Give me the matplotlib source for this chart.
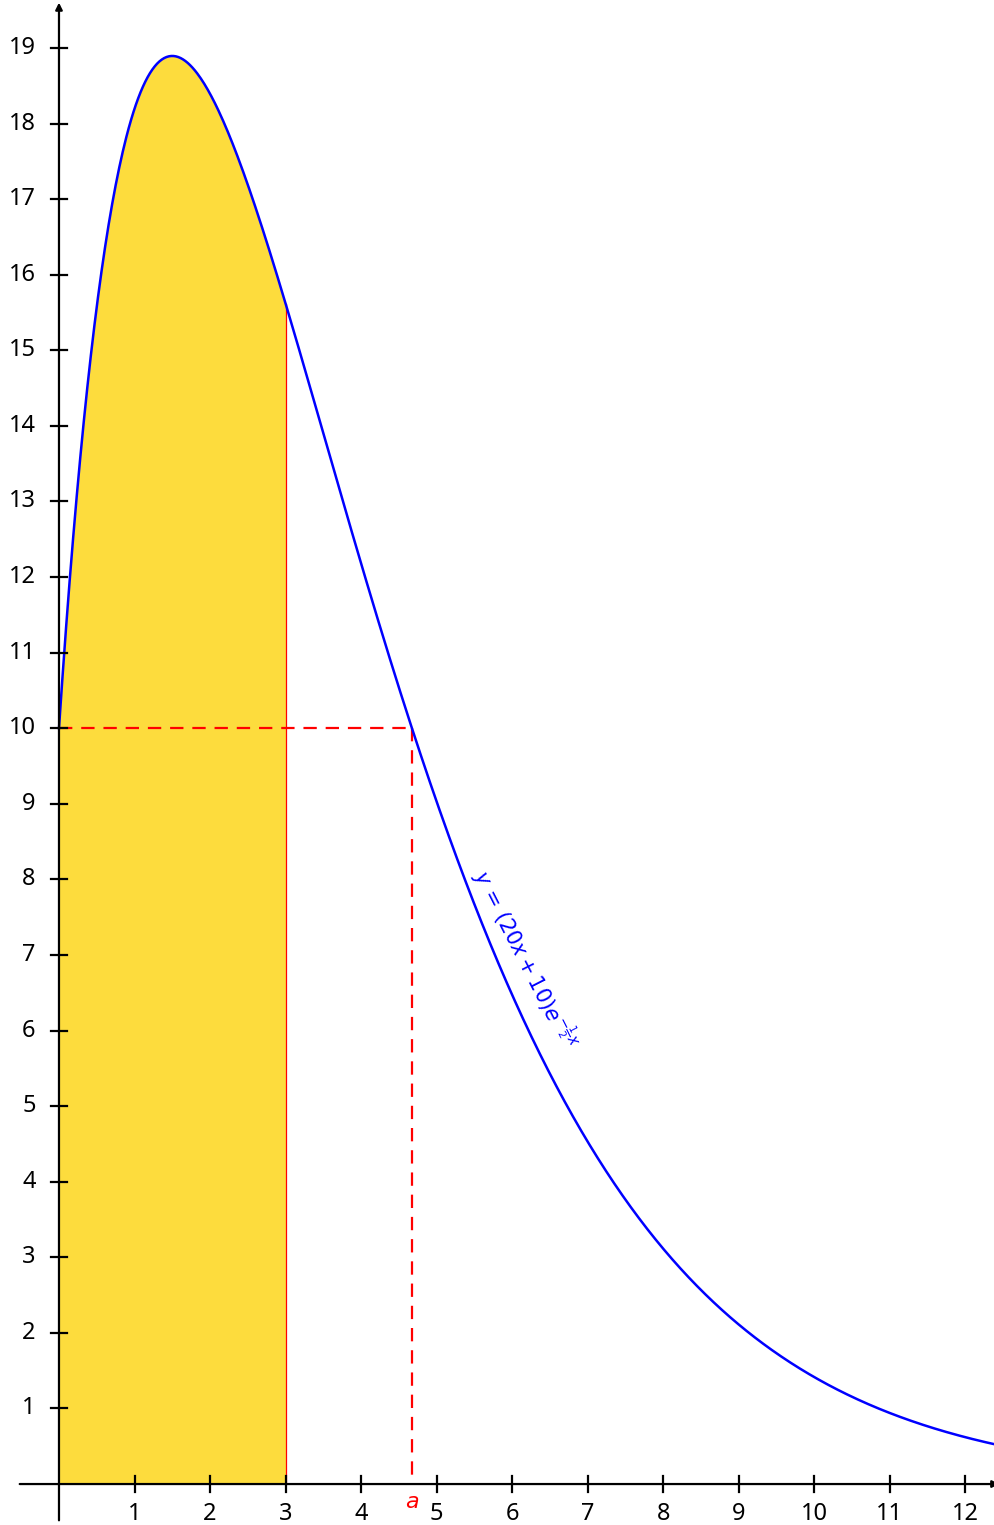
import numpy as np
import matplotlib
matplotlib.use("Agg")
import matplotlib.pyplot as plt

# y = (A*x + B) * exp(K*x), shaded from 0 to X_SHADE, a where y = Y_LEVEL
A, B, K = 20, 10, -0.5
X_SHADE = 3
Y_LEVEL = 10
x_ticks = list(range(1, 13))
y_ticks = list(range(1, 20))

def f(x):
    return (A * x + B) * np.exp(K * x)

# solve f(a) = Y_LEVEL on the decreasing branch
lo, hi = 2.0, 8.0
for _ in range(60):
    mid = 0.5 * (lo + hi)
    if f(mid) > Y_LEVEL:
        lo = mid
    else:
        hi = mid
a = 0.5 * (lo + hi)

plt.rcParams["font.family"] = ["Noto Sans", "DejaVu Sans"]
plt.rcParams["mathtext.fontset"] = "dejavusans"

fig = plt.figure(figsize=(9.94, 15.25), dpi=100)
ax = fig.add_axes([0, 0, 1, 1])
ax.set_xlim(-0.781, 12.38)
ax.set_ylim(-0.542, 19.635)
ax.axis("off")

xs = np.linspace(0, 12.5, 800)
ax.plot(xs, f(xs), color="#0000ff", lw=1.8, zorder=4)

xf = np.linspace(0, X_SHADE, 300)
ax.fill_between(xf, 0, f(xf), color="#fddc3d", lw=0, zorder=1)
ax.plot([X_SHADE, X_SHADE], [0, f(X_SHADE)], color="#ff0000", lw=0.9, zorder=2)

# dashed guides
ax.plot([0, a], [Y_LEVEL, Y_LEVEL], color="#ff0000", lw=1.6, dashes=(6, 4), zorder=3)
ax.plot([a, a], [Y_LEVEL, 0], color="#ff0000", lw=1.6, dashes=(6, 4), zorder=3)

# axes with arrows
ax.annotate("", xy=(12.45, 0), xytext=(-0.52, 0), annotation_clip=False,
            arrowprops=dict(arrowstyle="-|>", color="black", lw=1.6, mutation_scale=10,
                            shrinkA=0, shrinkB=0), zorder=5)
ax.annotate("", xy=(0, 19.6), xytext=(0, -0.48), annotation_clip=False,
            arrowprops=dict(arrowstyle="-|>", color="black", lw=1.6, mutation_scale=10,
                            shrinkA=0, shrinkB=0), zorder=5)

tk = 0.11
for t in x_ticks:
    ax.plot([t, t], [-tk, tk], color="black", lw=1.6, zorder=5)
    ax.text(t, -0.39, str(t), ha="center", va="center", fontsize=17, zorder=6)
for t in y_ticks:
    ax.plot([-tk, tk], [t, t], color="black", lw=1.6, zorder=5)
    ax.text(-0.31, t, str(t), ha="right", va="center", fontsize=17, zorder=6)

ax.text(a, -0.25, r"$a$", color="#ff0000", ha="center", va="center", fontsize=16, zorder=6)

ax.text(6.18, 6.95, r"$y\,=\,(20x + 10)e^{-\frac{1}{2}x}$", color="#0000ff",
        rotation=-63, rotation_mode="anchor", ha="center", va="center", fontsize=15, zorder=6)

fig.savefig("out.png", dpi=100)
